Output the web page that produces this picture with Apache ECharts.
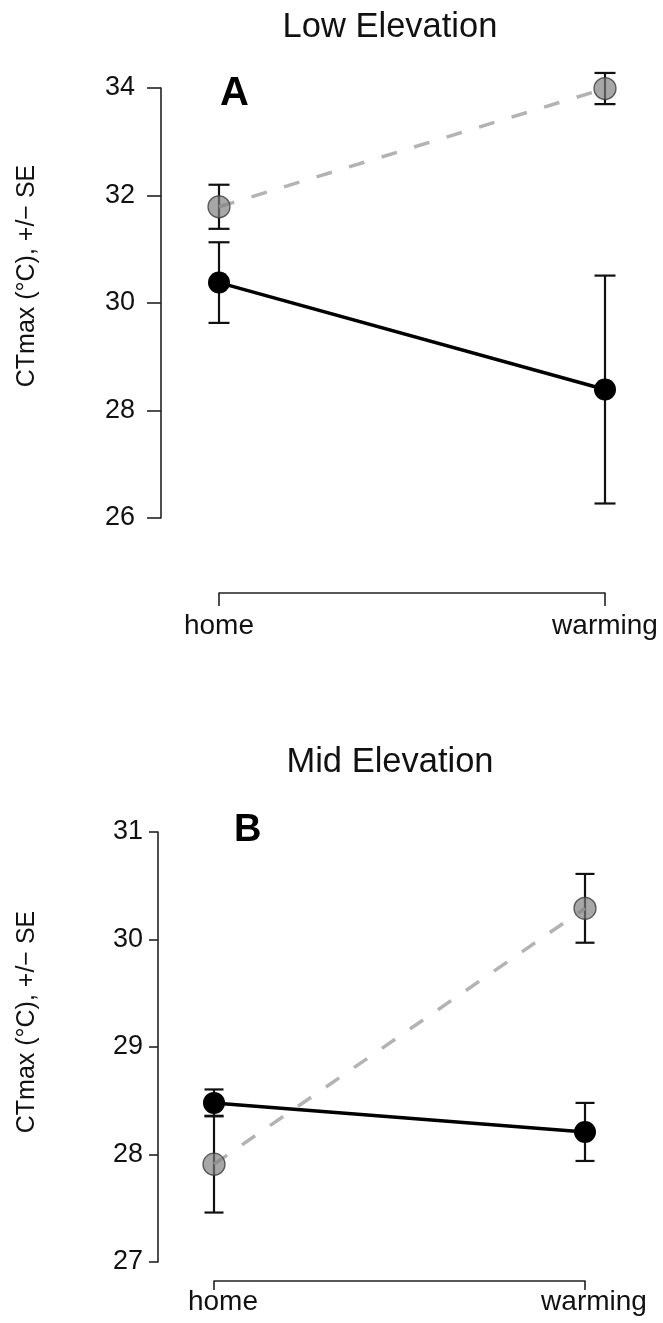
<!DOCTYPE html>
<html>
<head>
<meta charset="utf-8">
<script src="https://cdn.jsdelivr.net/npm/echarts@6/dist/echarts.min.js"></script>
<style>
html,body{margin:0;padding:0;background:#fff;}
#chart{width:663px;height:1323px;}
</style>
</head>
<body>
<div id="chart"></div>
<script>
// ---- data ----
var categories = ['home', 'warming'];
var panelTitles = ['Low Elevation', 'Mid Elevation'];
var panelLetters = ['A', 'B'];
var yAxisName = 'CTmax (\u00B0C), +/\u2212 SE';

var lowBlackMean = [30.38, 28.39];
var lowBlackSE   = [0.75, 2.12];
var lowGrayMean  = [31.79, 33.99];
var lowGraySE    = [0.41, 0.29];

var midBlackMean = [28.48, 28.21];
var midBlackSE   = [0.125, 0.27];
var midGrayMean  = [27.91, 30.29];
var midGraySE    = [0.45, 0.32];

var lowYTicks = [26, 28, 30, 32, 34];
var midYTicks = [27, 28, 29, 30, 31];

// ---- helpers ----
function errData(mean, se) {
  return mean.map(function (m, i) { return [i, m - se[i], m + se[i]]; });
}
function pts(mean) {
  return mean.map(function (m, i) { return [i, m]; });
}
var FONT = 'Liberation Sans, Arial, Helvetica, sans-serif';

function errSeries(idx, data, capW) {
  return {
    type: 'custom',
    xAxisIndex: idx, yAxisIndex: idx,
    data: data,
    encode: { x: 0, y: [1, 2] },
    clip: false,
    z: 3,
    silent: true,
    renderItem: function (params, api) {
      var x = api.value(0);
      var lo = api.coord([x, api.value(1)]);
      var hi = api.coord([x, api.value(2)]);
      var st = { stroke: '#111', lineWidth: 2.2 };
      return {
        type: 'group',
        children: [
          { type: 'line', shape: { x1: lo[0], y1: lo[1], x2: hi[0], y2: hi[1] }, style: st },
          { type: 'line', shape: { x1: lo[0] - capW / 2, y1: lo[1], x2: lo[0] + capW / 2, y2: lo[1] }, style: st },
          { type: 'line', shape: { x1: hi[0] - capW / 2, y1: hi[1], x2: hi[0] + capW / 2, y2: hi[1] }, style: st }
        ]
      };
    }
  };
}
function graySeries(idx, mean) {
  return {
    type: 'line', xAxisIndex: idx, yAxisIndex: idx,
    data: pts(mean), clip: false, z: 4,
    symbol: 'circle', symbolSize: 22,
    lineStyle: { color: '#b3b3b3', width: 3.5, type: [16, 18] },
    itemStyle: { color: 'rgba(125,125,125,0.68)', borderColor: 'rgba(60,60,60,0.8)', borderWidth: 1.3 },
    silent: true
  };
}
function blackSeries(idx, mean) {
  return {
    type: 'line', xAxisIndex: idx, yAxisIndex: idx,
    data: pts(mean), clip: false, z: 5,
    symbol: 'circle', symbolSize: 22,
    lineStyle: { color: '#000', width: 3.5 },
    itemStyle: { color: '#000', borderColor: '#000', borderWidth: 0 },
    silent: true
  };
}
function yAxis(idx, ticks, offset, margin, tickLen, nameGap, namePad) {
  return {
    type: 'value', gridIndex: idx,
    min: ticks[0], max: ticks[ticks.length - 1],
    interval: ticks[1] - ticks[0],
    offset: offset,
    name: yAxisName, nameLocation: 'middle', nameGap: nameGap,
    nameTextStyle: { fontSize: 25, color: '#111', fontFamily: FONT, padding: namePad },
    axisLine: { show: true, lineStyle: { color: '#222', width: 1.6 } },
    axisTick: { show: true, length: tickLen, lineStyle: { color: '#222', width: 1.6 } },
    axisLabel: { fontSize: 27, color: '#111', fontFamily: FONT, margin: margin },
    splitLine: { show: false }
  };
}
function xAxis(idx, offset, margin, tickLen, pad) {
  return {
    type: 'category', gridIndex: idx, data: categories,
    boundaryGap: false, offset: offset,
    axisLine: { show: true, lineStyle: { color: '#222', width: 1.6 } },
    axisTick: { show: true, length: tickLen, lineStyle: { color: '#222', width: 1.6 } },
    axisLabel: { fontSize: 28, color: '#111', fontFamily: FONT, margin: margin, padding: pad },
    splitLine: { show: false }
  };
}

var chart = echarts.init(document.getElementById('chart'), null, { renderer: 'canvas' });
chart.setOption({
  backgroundColor: '#fff',
  animation: false,
  title: [
    { text: panelTitles[0], left: 385, top: 5, textAlign: 'center',
      textStyle: { fontSize: 34.5, fontWeight: 'normal', color: '#111', fontFamily: FONT } },
    { text: panelTitles[1], left: 385, top: 740, textAlign: 'center',
      textStyle: { fontSize: 34.5, fontWeight: 'normal', color: '#111', fontFamily: FONT } },
    { text: panelLetters[0], left: 215, top: 69,
      textStyle: { fontSize: 40, fontWeight: 'bold', color: '#000', fontFamily: FONT } },
    { text: panelLetters[1], left: 229, top: 807,
      textStyle: { fontSize: 38, fontWeight: 'bold', color: '#000', fontFamily: FONT } }
  ],
  grid: [
    { left: 219, right: 58, top: 88, height: 430 },
    { left: 214, right: 78, top: 832, height: 430 }
  ],
  xAxis: [
    xAxis(0, 75, 19, 13, [0, 0, 0, 0]),
    xAxis(1, 19, 7, 9, [0, 0, 0, 18])
  ],
  yAxis: [
    yAxis(0, lowYTicks, 58, 26, 14, 121, [0, 0, 0, 54]),
    yAxis(1, midYTicks, 56, 15, 9, 118, [0, 0, 0, 50])
  ],
  series: [
    errSeries(0, errData(lowBlackMean, lowBlackSE), 21),
    errSeries(0, errData(lowGrayMean, lowGraySE), 21),
    graySeries(0, lowGrayMean),
    blackSeries(0, lowBlackMean),
    errSeries(1, errData(midBlackMean, midBlackSE), 19),
    errSeries(1, errData(midGrayMean, midGraySE), 19),
    graySeries(1, midGrayMean),
    blackSeries(1, midBlackMean)
  ]
});
</script>
</body>
</html>
